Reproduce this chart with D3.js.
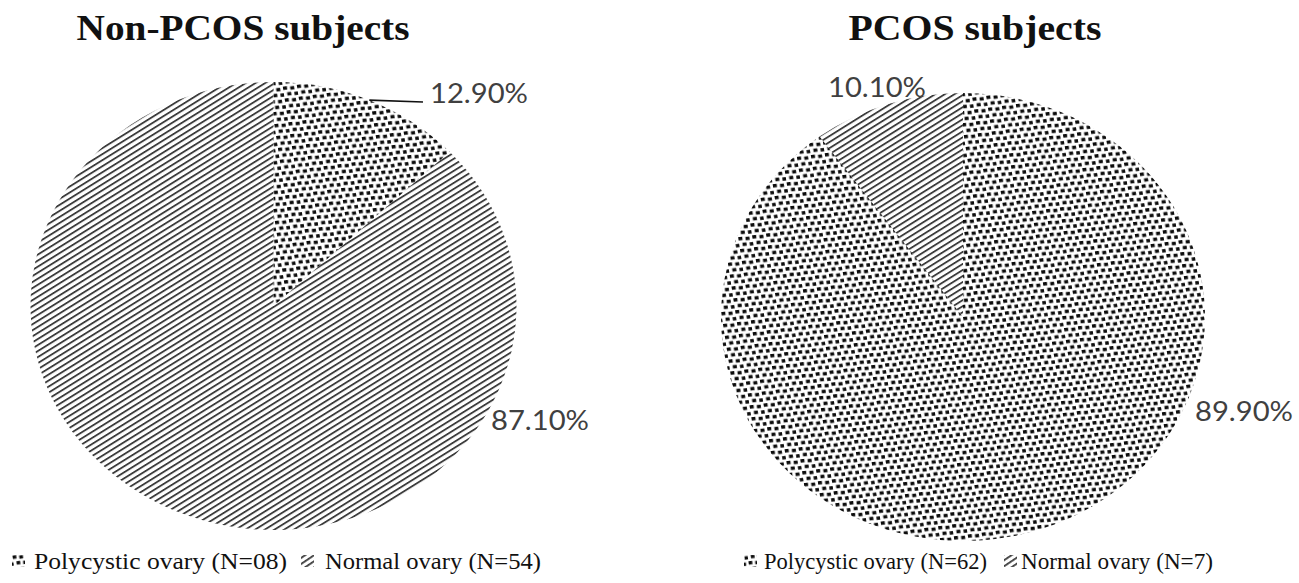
<!DOCTYPE html>
<html>
<head>
<meta charset="utf-8">
<script src="https://cdn.jsdelivr.net/npm/d3@7"></script>
<style>
  html, body { margin: 0; padding: 0; background: #fff; }
  svg { display: block; }
</style>
</head>
<body>
<svg id="chart" width="1299" height="583"></svg>
<script>
// Ovary morphology by group
const categories = ["Polycystic ovary", "Normal ovary"];
const nonPcosCounts = [8, 54];
const pcosCounts = [62, 7];
const nonPcosPercent = [12.90, 87.10];
const pcosPercent = [89.90, 10.10];
const chartTitles = ["Non-PCOS subjects", "PCOS subjects"];

const svg = d3.select("#chart");
const defs = svg.append("defs");

// Dotted fill for polycystic, diagonal hatch for normal
const dots = defs.append("pattern")
  .attr("id", "dots").attr("patternUnits", "userSpaceOnUse")
  .attr("width", 13).attr("height", 12)
  .attr("patternTransform", "rotate(-8)");
[[0, 0], [6.6, 0.7], [3.1, 6.1], [9.7, 6.6]].forEach(([x, y]) => {
  dots.append("rect").attr("x", x).attr("y", y)
    .attr("width", 3.7).attr("height", 3.4).attr("fill", "#0c0c0c");
});

const hatch = defs.append("pattern")
  .attr("id", "hatch").attr("patternUnits", "userSpaceOnUse")
  .attr("width", 10).attr("height", 5)
  .attr("patternTransform", "rotate(-34)");
hatch.append("rect").attr("x", 0).attr("y", 0)
  .attr("width", 10).attr("height", 1.8).attr("fill", "#3c3c3c");

const fills = d3.scaleOrdinal().domain(categories).range(["url(#dots)", "url(#hatch)"]);

const ry = 224;
const pies = [
  { title: chartTitles[0], pct: nonPcosPercent, counts: nonPcosCounts, pad: 2, cx: 273.5, cy: 306, rx: 243,
    titleX: 243, titleW: 333,
    labels: [{ dx: 156.5, dy: -203, leader: true }, { dx: 217.5, dy: 124 }],
    legend: [{ ix: 12, tx: 34, tw: 253 }, { ix: 301, tx: 325, tw: 216 }] },
  { title: chartTitles[1], pct: pcosPercent, counts: pcosCounts, pad: 1, cx: 963, cy: 317, rx: 242,
    titleX: 975, titleW: 253,
    labels: [{ dx: 232, dy: 104 }, { dx: -135, dy: -220 }],
    legend: [{ ix: 744, tx: 764, tw: 223 }, { ix: 1004, tx: 1021, tw: 192 }] }
];

const pieGen = d3.pie().sort(null).value(d => d.value).startAngle(0).endAngle(2 * Math.PI);
const arcGen = d3.arc().innerRadius(0).outerRadius(ry);

pies.forEach(p => {
  const data = categories.map((c, i) => ({ cat: c, value: p.pct[i], n: p.counts[i] }));
  const arcs = pieGen(data);
  const sx = p.rx / ry;

  // title
  svg.append("text")
    .attr("x", p.titleX).attr("y", 40)
    .attr("text-anchor", "middle")
    .attr("font-family", "'Liberation Serif', 'Times New Roman', serif")
    .attr("font-weight", "bold").attr("font-size", 36)
    .attr("textLength", p.titleW).attr("lengthAdjust", "spacingAndGlyphs")
    .attr("fill", "#111")
    .text(p.title);

  // slices
  const g = svg.append("g").attr("transform", `translate(${p.cx},${p.cy}) scale(${sx},1)`);
  g.selectAll("path").data(arcs).join("path")
    .attr("d", arcGen)
    .attr("fill", d => fills(d.data.cat));

  // percentage labels
  arcs.forEach((a, i) => {
    const L = p.labels[i];
    const tx = p.cx + L.dx, ty = p.cy + L.dy;
    if (L.leader) {
      const mid = (a.startAngle + a.endAngle) / 2;
      const x0 = p.cx + p.rx * Math.sin(mid), y0 = p.cy - ry * Math.cos(mid);
      svg.append("line")
        .attr("x1", x0).attr("y1", y0)
        .attr("x2", tx - 7).attr("y2", ty - 1)
        .attr("stroke", "#111").attr("stroke-width", 1.6);
    }
    svg.append("text")
      .attr("x", tx).attr("y", ty)
      .attr("font-family", "Lato, 'Open Sans', sans-serif")
      .attr("font-size", 27)
      .attr("textLength", 98).attr("lengthAdjust", "spacingAndGlyphs")
      .attr("fill", "#404040")
      .text(a.data.value.toFixed(2) + "%");
  });

  // legend
  data.forEach((d, i) => {
    const L = p.legend[i];
    svg.append("rect")
      .attr("x", L.ix).attr("y", 555).attr("width", 13).attr("height", 12)
      .attr("fill", fills(d.cat));
    svg.append("text")
      .attr("x", L.tx).attr("y", 569)
      .attr("font-family", "'Liberation Serif', 'Times New Roman', serif")
      .attr("font-size", 23)
      .attr("textLength", L.tw).attr("lengthAdjust", "spacingAndGlyphs")
      .attr("fill", "#111")
      .text(`${d.cat} (N=${String(d.n).padStart(p.pad, "0")})`);
  });
});
</script>
</body>
</html>
